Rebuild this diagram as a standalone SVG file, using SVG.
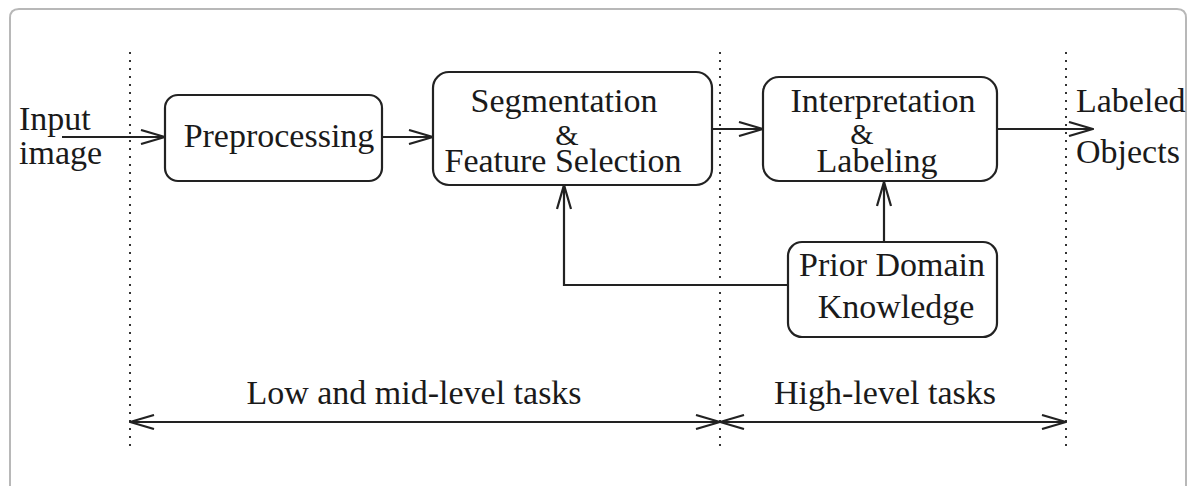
<svg xmlns="http://www.w3.org/2000/svg" width="1192" height="486" viewBox="0 0 1192 486">
<style>
  .box { fill: #fff; stroke: #222; stroke-width: 2.2; }
  .t { font-family: "Liberation Serif", "Times New Roman", serif; font-size: 34px; fill: #1a1a1a; }
  .amp { font-size: 30px; }
  .c { text-anchor: middle; }
  .ln { fill: none; stroke: #222; stroke-width: 2.2; }
  .dot { fill: none; stroke: #333; stroke-width: 2; stroke-dasharray: 2 6; }
  .frame { fill: none; stroke: #b8b8b8; stroke-width: 2; }
</style>
<defs>
  <marker id="ah" viewBox="0 0 26 16" refX="25" refY="8" markerWidth="26" markerHeight="16" markerUnits="userSpaceOnUse" orient="auto-start-reverse">
    <path d="M1,1 L25,8 L1,15" fill="none" stroke="#222" stroke-width="2.2"/>
  </marker>
</defs>
<rect width="1192" height="486" fill="#fff"/>
<path class="frame" d="M10,486 V18 Q10,9 19,9 H1177 Q1186,9 1186,18 V486"/>

<g id="dividers">
  <line class="dot" x1="130" y1="52" x2="130" y2="446"/>
  <line class="dot" x1="720" y1="52" x2="720" y2="446"/>
  <line class="dot" x1="1066" y1="52" x2="1066" y2="446"/>
</g>

<g id="input-label">
  <text class="t" x="19" y="130">Input</text>
  <text class="t" x="19" y="164">image</text>
</g>

<g id="preprocessing">
  <rect class="box" x="165" y="95" width="217" height="86" rx="13"/>
  <text class="t" x="279" y="147" text-anchor="middle">Preprocessing</text>
</g>

<g id="segmentation">
  <rect class="box" x="433" y="72" width="279" height="113" rx="16"/>
  <text class="t c" x="564" y="112">Segmentation</text>
  <text class="t c amp" x="567" y="145">&amp;</text>
  <text class="t c" x="563" y="172">Feature Selection</text>
</g>

<g id="interpretation">
  <rect class="box" x="763" y="77" width="234" height="104" rx="16"/>
  <text class="t c" x="883" y="112">Interpretation</text>
  <text class="t c amp" x="862" y="144">&amp;</text>
  <text class="t c" x="877" y="172">Labeling</text>
</g>

<g id="prior-knowledge">
  <rect class="box" x="788" y="242" width="209" height="95" rx="14"/>
  <text class="t c" x="892" y="276">Prior Domain</text>
  <text class="t c" x="896" y="318">Knowledge</text>
</g>

<g id="output-label">
  <text class="t" x="1076" y="112">Labeled</text>
  <text class="t" x="1076" y="163">Objects</text>
</g>

<g id="connectors">
  <line class="ln" x1="62" y1="137" x2="165" y2="137" marker-end="url(#ah)"/>
  <line class="ln" x1="382" y1="137" x2="433" y2="137" marker-end="url(#ah)"/>
  <line class="ln" x1="712" y1="129" x2="763" y2="129" marker-end="url(#ah)"/>
  <line class="ln" x1="997" y1="129" x2="1093" y2="129" marker-end="url(#ah)"/>
  <line class="ln" x1="884" y1="242" x2="884" y2="182" marker-end="url(#ah)"/>
  <polyline class="ln" points="788,285 564,285 564,185" marker-end="url(#ah)"/>
  <line class="ln" x1="130" y1="422" x2="720" y2="422" marker-start="url(#ah)" marker-end="url(#ah)"/>
  <line class="ln" x1="720" y1="422" x2="1066" y2="422" marker-start="url(#ah)" marker-end="url(#ah)"/>
</g>

<g id="scope-labels">
  <text class="t c" x="414" y="404">Low and mid-level tasks</text>
  <text class="t c" x="885" y="404">High-level tasks</text>
</g>
</svg>
